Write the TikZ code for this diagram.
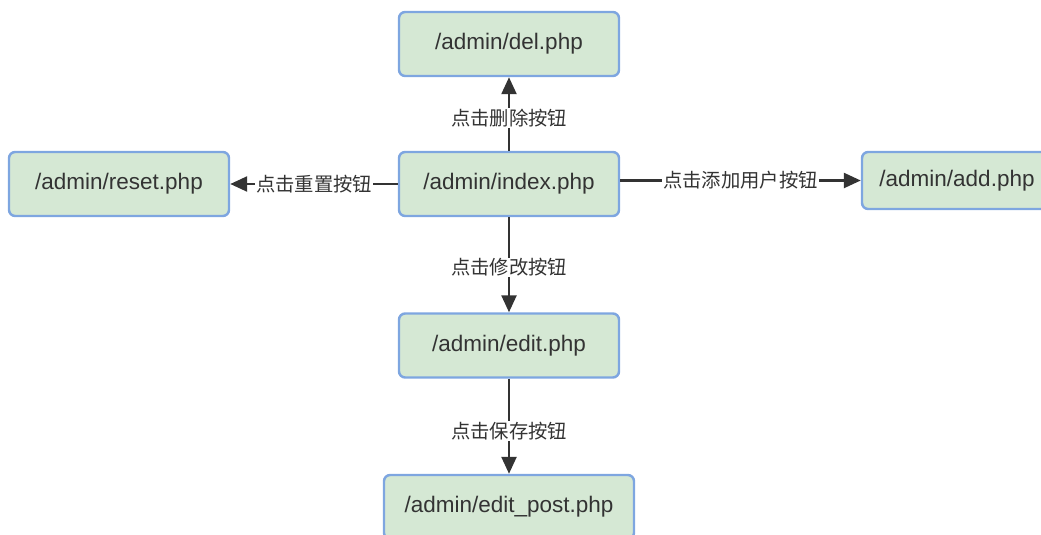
\documentclass[tikz,border=0pt]{standalone}
\usepackage{fontspec}
\setmainfont{Liberation Sans}
\newfontfamily\cjkfont{Noto Sans CJK SC}
\usetikzlibrary{arrows.meta}
\definecolor{pagefill}{HTML}{D5E8D4}
\definecolor{pageline}{HTML}{7EA6E0}
\definecolor{ink}{HTML}{333333}
\tikzset{
  page/.style={draw=pageline, fill=pagefill, line width=1.4pt, rounded corners=3.5pt,
    minimum width=4.4cm, minimum height=1.28cm, inner sep=0pt,
    text=ink, font=\fontsize{12.8}{14}\selectfont},
  link/.style={draw=ink, line width=1.4pt, -{Triangle[length=3.4mm,width=3mm]}},
  lbl/.style={fill=white, inner sep=0.5pt, text=ink, font=\cjkfont\fontsize{11}{12}\selectfont}
}
\begin{document}
\begin{tikzpicture}
  \useasboundingbox (0,0) rectangle (20.82,-10.68);
  \node[page] (index) at (10.18,-3.68) {/admin/index.php};
  \node[page] (del) at (10.18,-0.88) {/admin/del.php};
  \node[page] (reset) at (2.38,-3.68) {/admin/reset.php};
  \node[page, minimum width=3.8cm, minimum height=1.14cm] (add) at (19.14,-3.61) {/admin/add.php};
  \node[page] (edit) at (10.18,-6.91) {/admin/edit.php};
  \node[page, minimum width=5cm] (editpost) at (10.18,-10.14) {/admin/edit\_post.php};
  \draw[link] (index.north) -- node[lbl, pos=0.45] {点击删除按钮} (del.south);
  \draw[link] (index.west) -- node[lbl] {点击重置按钮} (reset.east);
  \draw[link] (index.east |- add.west) -- node[lbl] {点击添加用户按钮} (add.west);
  \draw[link] (index.south) -- node[lbl, pos=0.53] {点击修改按钮} (edit.north);
  \draw[link] (edit.south) -- node[lbl, pos=0.55] {点击保存按钮} (editpost.north);
\end{tikzpicture}
\end{document}
